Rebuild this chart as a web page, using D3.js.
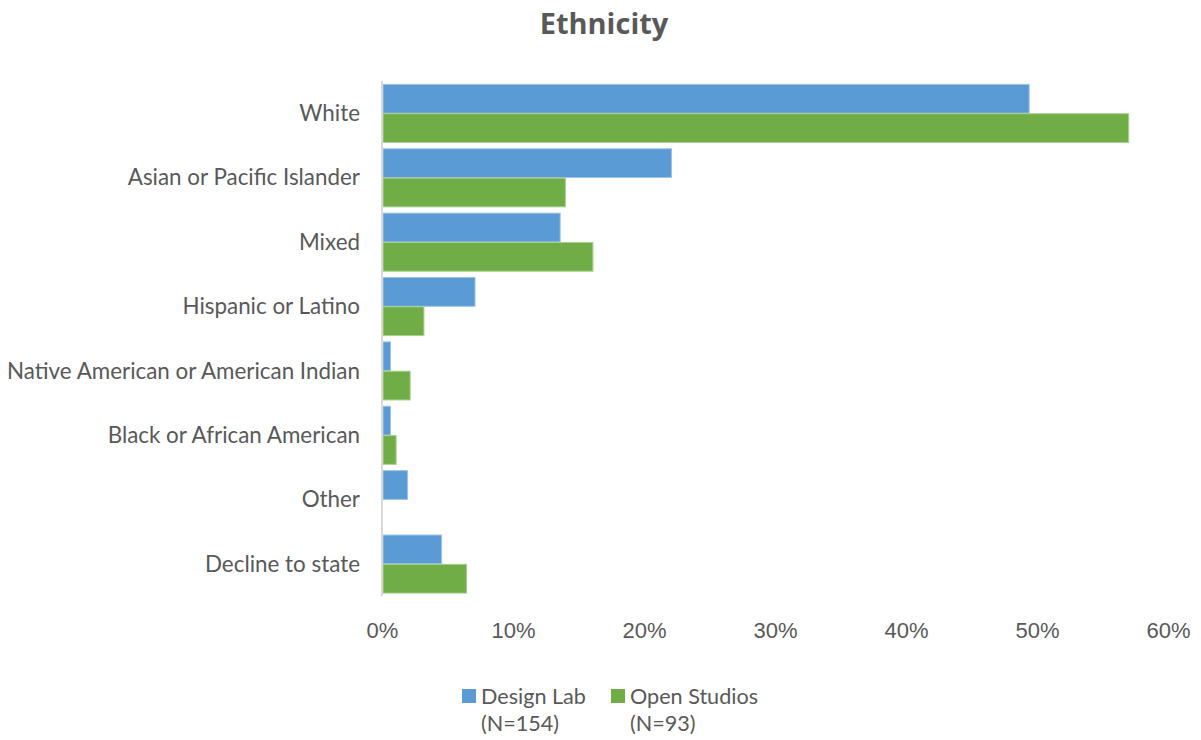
<!DOCTYPE html>
<html>
<head>
<meta charset="utf-8">
<script src="https://cdn.jsdelivr.net/npm/d3@7"></script>
<style>
  body { margin: 0; background: #fff; }
  svg { display: block; }
</style>
</head>
<body>
<svg id="chart" width="1201" height="740"></svg>
<script>
const categories = [
  'White',
  'Asian or Pacific Islander',
  'Mixed',
  'Hispanic or Latino',
  'Native American or American Indian',
  'Black or African American',
  'Other',
  'Decline to state',
];
const seriesNames = ['Design Lab', 'Open Studios'];
const seriesNotes = ['(N=154)', '(N=93)'];
const designLab = [49.4, 22.1, 13.6, 7.1, 0.65, 0.65, 1.95, 4.55];
const openStudios = [57.0, 14.0, 16.1, 3.2, 2.15, 1.08, 0, 6.45];
const xTicks = [0, 10, 20, 30, 40, 50, 60];

const colors = ['#5b9bd5', '#70ad47'];
const borders = ['#9dc3e6', '#a9d18e'];
const textColor = '#595959';

const svg = d3.select('#chart');
const margin = { top: 81, left: 382, right: 33, bottom: 144 };
const width = 1201 - margin.left - margin.right;
const height = 740 - margin.top - margin.bottom;

const rows = categories.map((c, i) => ({ cat: c, vals: [designLab[i], openStudios[i]] }));

const x = d3.scaleLinear().domain([0, 60]).range([0, 786]);
const y = d3.scaleBand().domain(categories).range([0, height])
  .paddingInner(0.09).paddingOuter(0.045);
const ySub = d3.scaleBand().domain([0, 1]).range([0, y.bandwidth()]);

const g = svg.append('g').attr('transform', `translate(${margin.left},${margin.top})`);

// title
svg.append('text')
  .attr('x', 604)
  .attr('y', 34)
  .attr('text-anchor', 'middle')
  .attr('font-family', 'Open Sans, sans-serif')
  .attr('font-weight', 'bold')
  .attr('font-size', 29)
  .attr('fill', textColor)
  .text('Ethnicity');

// bars
const groups = g.selectAll('.cat').data(rows).enter()
  .append('g')
  .attr('class', 'cat')
  .attr('transform', d => `translate(0,${y(d.cat)})`);

groups.selectAll('rect')
  .data(d => d.vals.map((v, i) => ({ v, i })))
  .enter()
  .filter(d => d.v > 0)
  .append('rect')
  .attr('x', 1)
  .attr('y', d => ySub(d.i) + 0.5)
  .attr('width', d => Math.max(0, x(d.v) - 1))
  .attr('height', ySub.bandwidth() - 0.5)
  .attr('fill', d => colors[d.i])
  .attr('stroke', d => borders[d.i])
  .attr('stroke-width', 1);

// axis line
g.append('line')
  .attr('x1', 0).attr('x2', 0)
  .attr('y1', 0).attr('y2', height)
  .attr('stroke', '#d9d9d9')
  .attr('stroke-width', 2);

// category labels
g.selectAll('.cat-label').data(categories).enter()
  .append('text')
  .attr('class', 'cat-label')
  .attr('x', -22)
  .attr('y', d => y(d) + y.bandwidth() / 2)
  .attr('dy', '0.35em')
  .attr('text-anchor', 'end')
  .attr('font-family', 'Lato, sans-serif')
  .attr('font-size', 22.4)
  .attr('fill', textColor)
  .text(d => d);

// x axis labels
const xAxis = d3.axisBottom(x)
  .tickValues(xTicks)
  .tickFormat(d => `${d}%`)
  .tickSize(0)
  .tickPadding(0);
const ax = g.append('g')
  .attr('transform', `translate(0,${height + 26})`)
  .call(xAxis);
ax.select('.domain').remove();
ax.selectAll('text')
  .attr('font-family', 'Liberation Sans Narrow, Liberation Sans, Arial, sans-serif')
  .attr('font-size', 22)
  .attr('fill', textColor);

// legend
const legendX = [462, 611];
const legend = svg.append('g').attr('class', 'legend');
seriesNames.forEach((name, i) => {
  legend.append('rect')
    .attr('x', legendX[i])
    .attr('y', 689)
    .attr('width', 14)
    .attr('height', 14)
    .attr('fill', colors[i]);
  const t = legend.append('text')
    .attr('x', legendX[i] + 19)
    .attr('y', 704)
    .attr('font-family', 'Lato, sans-serif')
    .attr('font-size', 21.6)
    .attr('fill', textColor);
  t.append('tspan').text(name);
  t.append('tspan')
    .attr('x', legendX[i] + 19)
    .attr('dy', 27)
    .text(seriesNotes[i]);
});
</script>
</body>
</html>
